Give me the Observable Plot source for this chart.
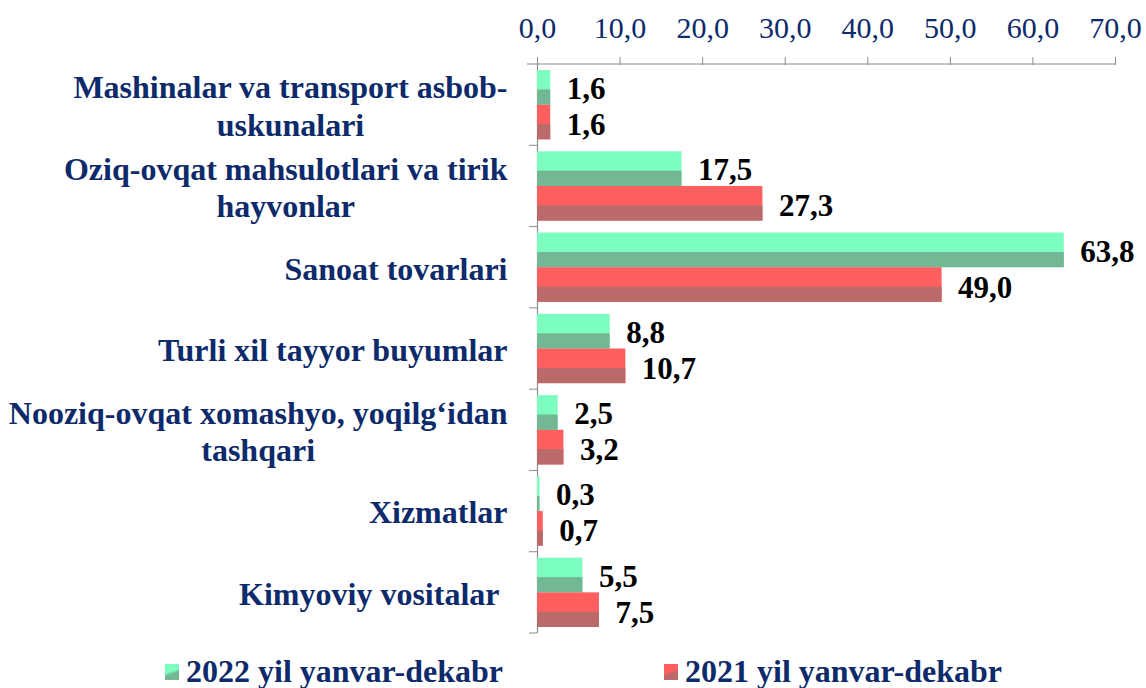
<!DOCTYPE html>
<html><head><meta charset="utf-8">
<script src="https://cdn.jsdelivr.net/npm/d3@7"></script>
<script src="https://cdn.jsdelivr.net/npm/@observablehq/plot@0.6"></script>
<style>
html,body{margin:0;padding:0;background:#fff;overflow:hidden;}
body{width:1146px;height:688px;font-family:"Liberation Serif","Times New Roman",serif;}
#legend{position:relative;height:40px;margin-top:5px;font-size:32px;font-weight:bold;color:#0d2a6b;white-space:nowrap;}
.item{position:absolute;top:0;display:flex;align-items:center;}
.sw{width:14px;height:16px;margin-right:7px;}
</style></head><body>
<div id="chart"></div>
<div id="legend"></div>
<script>
const categories = [
  "Mashinalar va transport asbob-\nuskunalari",
  "Oziq-ovqat mahsulotlari va tirik\nhayvonlar",
  "Sanoat tovarlari",
  "Turli xil tayyor buyumlar",
  "Nooziq-ovqat xomashyo, yoqilg\u2018idan\ntashqari",
  "Xizmatlar",
  "Kimyoviy vositalar\u00a0"
];
const values2022 = [1.6, 17.5, 63.8, 8.8, 2.5, 0.3, 5.5];
const values2021 = [1.6, 27.3, 49.0, 10.7, 3.2, 0.7, 7.5];
const seriesNames = ["2022 yil yanvar-dekabr", "2021 yil yanvar-dekabr"];
const xTicks = [0, 10, 20, 30, 40, 50, 60, 70];

const rows = categories.map((c, i) => ({category: c, v2022: values2022[i], v2021: values2021[i]}));

const W = 1146, H = 648, mT = 64, mB = 15, mL = 537, mR = 31;
const bw = (H - mT - mB) / categories.length;
const pad = 6, barH = (bw - 2 * pad) / 2;
const darkFrac = 0.44;
const navy = "#0d2a6b", gray = "#8c8c8c";
const gLight = "#7cfec0", gDark = "#72b894", rLight = "#ff5f5f", rDark = "#bb6a6a";
const fmt = v => v.toFixed(1).replace(".", ",");
const font = "'Liberation Serif', 'Times New Roman', serif";

const plot = Plot.plot({
  width: W, height: H,
  marginTop: mT, marginBottom: mB, marginLeft: mL, marginRight: mR,
  style: {fontFamily: font, background: "#fff"},
  x: {domain: [0, 70]},
  y: {domain: categories, padding: 0, round: false},
  marks: [
    // top axis line (with short left extension)
    Plot.barX([categories[0]], {y: d => d, x1: 0, x2: 70, insetLeft: -10, insetTop: -0.5, insetBottom: bw - 0.5, fill: gray}),
    // category separator ticks
    Plot.barX(categories.slice(1), {y: d => d, x1: 0, x2: 0, insetLeft: -8, insetTop: -0.5, insetBottom: bw - 0.5, fill: gray}),
    Plot.barX([categories[categories.length - 1]], {y: d => d, x1: 0, x2: 0, insetLeft: -8, insetTop: bw - 0.5, insetBottom: -0.5, fill: gray}),
    Plot.ruleX([0], {stroke: gray, strokeWidth: 1.2}),
    // 2022 bars
    Plot.barX(rows, {y: "category", x: "v2022", fill: gLight, insetTop: pad, insetBottom: bw - pad - barH}),
    Plot.barX(rows, {y: "category", x: "v2022", fill: gDark, insetTop: pad + barH * (1 - darkFrac), insetBottom: bw - pad - barH}),
    // 2021 bars
    Plot.barX(rows, {y: "category", x: "v2021", fill: rLight, insetTop: pad + barH, insetBottom: pad}),
    Plot.barX(rows, {y: "category", x: "v2021", fill: rDark, insetTop: pad + barH + barH * (1 - darkFrac), insetBottom: pad}),
    // value labels
    Plot.text(rows, {y: "category", x: "v2022", text: d => fmt(d.v2022), dx: 16, dy: -16, textAnchor: "start", fontSize: 31, fontWeight: "bold", fill: "#000"}),
    Plot.text(rows, {y: "category", x: "v2021", text: d => fmt(d.v2021), dx: 16, dy: 20, textAnchor: "start", fontSize: 31, fontWeight: "bold", fill: "#000"}),
    // axes
    Plot.axisX({anchor: "top", ticks: xTicks, tickSize: 8, tickPadding: 19, stroke: gray, fill: navy, fontSize: 30, tickFormat: fmt, label: null}),
    Plot.axisY({anchor: "left", tickSize: 0, tickPadding: 30, fill: navy, fontSize: 32, fontWeight: "bold", lineHeight: 1.16, label: null})
  ]
});
document.getElementById("chart").append(plot);

// center multi-line category labels within their block (right edge kept)
plot.querySelectorAll('g[aria-label="y-axis tick label"] text').forEach(t => {
  const spans = t.querySelectorAll("tspan");
  if (spans.length < 2) return;
  const w = Math.max(...Array.from(spans, s => s.getComputedTextLength()));
  t.setAttribute("text-anchor", "middle");
  spans.forEach(s => s.setAttribute("x", -w / 2));
});

// legend
const legend = document.getElementById("legend");
const swatches = [[gLight, gDark, 165], [rLight, rDark, 664]];
seriesNames.forEach((name, i) => {
  const [a, b, left] = swatches[i];
  const item = document.createElement("div");
  item.className = "item";
  item.style.left = left + "px";
  const sw = document.createElement("div");
  sw.className = "sw";
  sw.style.background = `linear-gradient(160deg, ${a} 45%, ${b} 60%)`;
  const tx = document.createElement("span");
  tx.textContent = name;
  item.append(sw, tx);
  legend.append(item);
});
</script>
</body></html>
